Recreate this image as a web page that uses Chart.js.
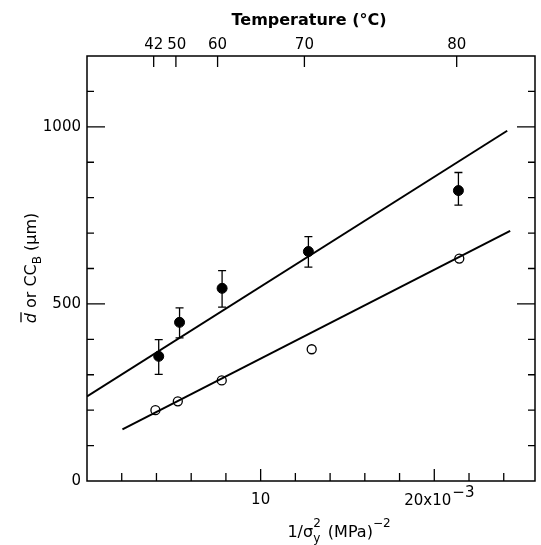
<!DOCTYPE html>
<html>
<head>
<meta charset="utf-8">
<script src="https://cdn.jsdelivr.net/npm/chart.js@4"></script>
<style>
  html, body { margin: 0; padding: 0; background: #fff; }
  #wrap { width: 541px; height: 545px; }
</style>
</head>
<body>
<div id="wrap"><canvas id="grainChart" width="541" height="545"></canvas></div>
<script>
// filled circles: mean grain size d with error bars
const filledX = [4.13, 5.33, 7.78, 12.75, 21.39];
const filledY = [352, 448, 544, 648, 820];
const filledHi = [399, 489, 594, 690, 871];
const filledLo = [301, 404, 491, 604, 779];
// open circles: CC_B
const openX = [3.94, 5.23, 7.76, 12.94, 21.44];
const openY = [200, 225, 284, 372, 628];
// fitted lines
const upperFitX = [0, 24.2];
const upperFitY = [239, 989];
const lowerFitX = [2.04, 24.37];
const lowerFitY = [146, 706];
// top temperature axis
const tempLabels = ['42', '50', '60', '70', '80'];
const tempTickX = [3.84, 5.12, 7.52, 12.52, 21.29];
// bottom / side ticks
const xTickValues = [2, 4, 6, 8, 10, 12, 14, 16, 18, 20, 22, 24];
const xLabelValues = [10, 20];
const yTickValues = [100, 200, 300, 400, 500, 600, 700, 800, 900, 1000, 1100];
const yLabelValues = [0, 500, 1000];

const FONT = '"DejaVu Sans", sans-serif';

function toPoints(xs, ys) {
    return xs.map((x, i) => ({ x: x, y: ys[i] }));
}

const errorBars = {
    id: 'errorBars',
    afterDatasetsDraw(chart) {
        const ctx = chart.ctx;
        const xs = chart.scales.x, ys = chart.scales.y;
        ctx.save();
        ctx.strokeStyle = '#000';
        ctx.lineWidth = 1.3;
        filledX.forEach((v, i) => {
            const px = xs.getPixelForValue(v);
            const hi = ys.getPixelForValue(filledHi[i]);
            const lo = ys.getPixelForValue(filledLo[i]);
            ctx.beginPath();
            ctx.moveTo(px, hi); ctx.lineTo(px, lo);
            ctx.moveTo(px - 4, hi); ctx.lineTo(px + 4, hi);
            ctx.moveTo(px - 4, lo); ctx.lineTo(px + 4, lo);
            ctx.stroke();
        });
        ctx.restore();
    }
};

const frameAxes = {
    id: 'frameAxes',
    afterDraw(chart) {
        const ctx = chart.ctx;
        const a = chart.chartArea;
        const xs = chart.scales.x, ys = chart.scales.y;
        ctx.save();
        ctx.strokeStyle = '#000';
        ctx.fillStyle = '#000';
        ctx.lineWidth = 1.5;
        ctx.strokeRect(a.left, a.top, a.right - a.left, a.bottom - a.top);

        ctx.lineWidth = 1.3;
        ctx.beginPath();
        xTickValues.forEach(v => {
            const px = xs.getPixelForValue(v);
            const len = xLabelValues.includes(v) ? 12 : 8;
            ctx.moveTo(px, a.bottom); ctx.lineTo(px, a.bottom - len);
        });
        yTickValues.forEach(v => {
            const py = ys.getPixelForValue(v);
            const len = v % 500 === 0 ? 18 : 7;
            ctx.moveTo(a.left, py); ctx.lineTo(a.left + len, py);
            ctx.moveTo(a.right, py); ctx.lineTo(a.right - len, py);
        });
        tempTickX.forEach(v => {
            const px = xs.getPixelForValue(v);
            ctx.moveTo(px, a.top); ctx.lineTo(px, a.top + 11);
        });
        ctx.stroke();

        // tick labels
        ctx.font = '15px ' + FONT;
        ctx.textBaseline = 'middle';
        ctx.textAlign = 'right';
        yLabelValues.forEach(v => {
            ctx.fillText(String(v), a.left - 6, ys.getPixelForValue(v));
        });
        // temperature labels, pushed right when they would collide
        ctx.textAlign = 'left';
        let prevRight = -Infinity;
        tempLabels.forEach((t, i) => {
            const w = ctx.measureText(t).width;
            let left = xs.getPixelForValue(tempTickX[i]) - w / 2;
            if (left < prevRight + 4) left = prevRight + 4;
            ctx.fillText(t, left, 45);
            prevRight = left + w;
        });
        ctx.textAlign = 'center';
        ctx.fillText('10', xs.getPixelForValue(10), 500);
        ctx.textAlign = 'left';
        let lx = xs.getPixelForValue(20) - 30;
        ctx.fillText('20x10', lx, 501);
        lx += ctx.measureText('20x10').width + 1;
        ctx.fillText('\u22123', lx, 493);

        // top title
        ctx.font = 'bold 16px ' + FONT;
        ctx.textAlign = 'center';
        ctx.fillText('Temperature (\u00B0C)', 309, 21);

        // bottom title: 1/σy² (MPa)^-2
        ctx.textBaseline = 'alphabetic';
        ctx.textAlign = 'left';
        const big = '16px ' + FONT, small = '12px ' + FONT;
        ctx.font = big;
        const w1 = ctx.measureText('1/\u03C3').width;
        const w3 = ctx.measureText(' (MPa)').width;
        ctx.font = small;
        const w2 = ctx.measureText('2').width + 2;
        const w4 = ctx.measureText('\u22122').width;
        let bx = 339 - (w1 + w2 + w3 + w4) / 2;
        const by = 537;
        ctx.font = big;
        ctx.fillText('1/\u03C3', bx, by);
        bx += w1;
        ctx.font = small;
        ctx.fillText('y', bx, by + 5);
        ctx.fillText('2', bx, by - 10);
        bx += w2;
        ctx.font = big;
        ctx.fillText(' (MPa)', bx, by);
        bx += w3;
        ctx.font = small;
        ctx.fillText('\u22122', bx, by - 10);

        // left title: d̄ or CC_B (μm)
        ctx.save();
        ctx.translate(36, 268);
        ctx.rotate(-Math.PI / 2);
        ctx.font = 'italic 16px ' + FONT;
        const wd = ctx.measureText('d').width;
        ctx.font = big;
        const wo = ctx.measureText(' or CC').width;
        const wp = ctx.measureText(' (\u03BCm)').width;
        ctx.font = small;
        const wb = ctx.measureText('B').width;
        let tx = -(wd + wo + wb + wp) / 2;
        ctx.font = 'italic 16px ' + FONT;
        ctx.fillText('d', tx, 0);
        ctx.lineWidth = 1.3;
        ctx.beginPath();
        ctx.moveTo(tx + 1, -15); ctx.lineTo(tx + wd + 1, -15);
        ctx.stroke();
        tx += wd;
        ctx.font = big;
        ctx.fillText(' or CC', tx, 0);
        tx += wo;
        ctx.font = small;
        ctx.fillText('B', tx, 5);
        tx += wb;
        ctx.font = big;
        ctx.fillText(' (\u03BCm)', tx, 0);
        ctx.restore();

        ctx.restore();
    }
};

const ctx = document.getElementById('grainChart').getContext('2d');
new Chart(ctx, {
    type: 'scatter',
    data: {
        datasets: [
            {
                label: 'fit d',
                data: toPoints(upperFitX, upperFitY),
                showLine: true,
                borderColor: '#000',
                borderWidth: 2,
                pointRadius: 0
            },
            {
                label: 'fit CCB',
                data: toPoints(lowerFitX, lowerFitY),
                showLine: true,
                borderColor: '#000',
                borderWidth: 2,
                pointRadius: 0
            },
            {
                label: 'd',
                data: toPoints(filledX, filledY),
                pointRadius: 5,
                pointBackgroundColor: '#000',
                pointBorderColor: '#000',
                pointBorderWidth: 1
            },
            {
                label: 'CCB',
                data: toPoints(openX, openY),
                pointRadius: 4.5,
                pointBackgroundColor: '#fff',
                pointBorderColor: '#000',
                pointBorderWidth: 1.3
            }
        ]
    },
    options: {
        responsive: false,
        animation: false,
        devicePixelRatio: 1,
        layout: { padding: { left: 87, right: 2, top: 56, bottom: 64 } },
        plugins: {
            legend: { display: false },
            tooltip: { enabled: false }
        },
        scales: {
            x: { type: 'linear', min: 0, max: 25.8, display: false },
            y: { type: 'linear', min: 0, max: 1200, display: false }
        }
    },
    plugins: [errorBars, frameAxes]
});
</script>
</body>
</html>
